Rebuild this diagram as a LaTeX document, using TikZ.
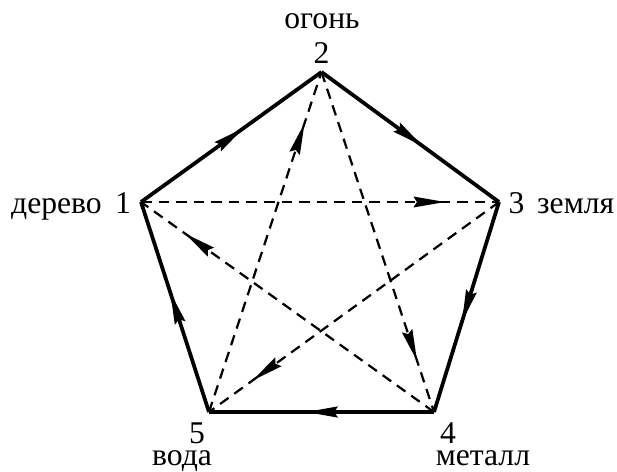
\documentclass[tikz,border=0pt]{standalone}
\usepackage{fontspec}
\setmainfont{Liberation Serif}
\usetikzlibrary{arrows.meta,decorations.markings}

\begin{document}
\begin{tikzpicture}[x=0.03cm, y=-0.03cm,
  >={Stealth[length=0.95cm, width=0.32cm, inset=0.1cm]},
  rim/.style={line width=3.2pt, line join=miter,
              postaction={decorate, decoration={markings,
                mark=at position 0.57 with {\arrow{>}}}}},
  chord/.style={line width=1.9pt, dash pattern=on 9pt off 6pt,
              postaction={decorate, decoration={markings,
                mark=at position 0.85 with {\arrow{>}}}}},
  lbl/.style={font=\fontsize{27}{32}\selectfont, inner sep=0pt, anchor=base}
]
\useasboundingbox (0,0) rectangle (617,471);

% vertices
\coordinate (v1) at (141,202);
\coordinate (v2) at (321.5,72);
\coordinate (v3) at (499,202);
\coordinate (v4) at (434,412);
\coordinate (v5) at (209,412);

% labels
\node[lbl] (n2) at (321.5,63) {2};
\node[lbl] (t2) at (322,28) {огонь};
\node[lbl] (n1) at (123,213) {1};
\node[lbl, anchor=base east] (t1) at (102,213) {дерево};
\node[lbl] (n3) at (516.5,213) {3};
\node[lbl, anchor=base west] (t3) at (537,213) {земля};
\node[lbl] (n5) at (197,443) {5};
\node[lbl] (t5) at (182,465) {вода};
\node[lbl] (n4) at (448,443) {4};
\node[lbl] (t4) at (483,465) {металл};

% outer cycle
\draw[rim] (v1) -- (v2);
\draw[rim] (v2) -- (v3);
\draw[rim] (v3) -- (v4);
\draw[rim] (v4) -- (v5);
\draw[rim] (v5) -- (v1);

% star
\draw[chord] (v1) -- (v3);
\draw[chord] (v3) -- (v5);
\draw[chord] (v5) -- (v2);
\draw[chord] (v2) -- (v4);
\draw[chord] (v4) -- (v1);
\end{tikzpicture}
\end{document}
